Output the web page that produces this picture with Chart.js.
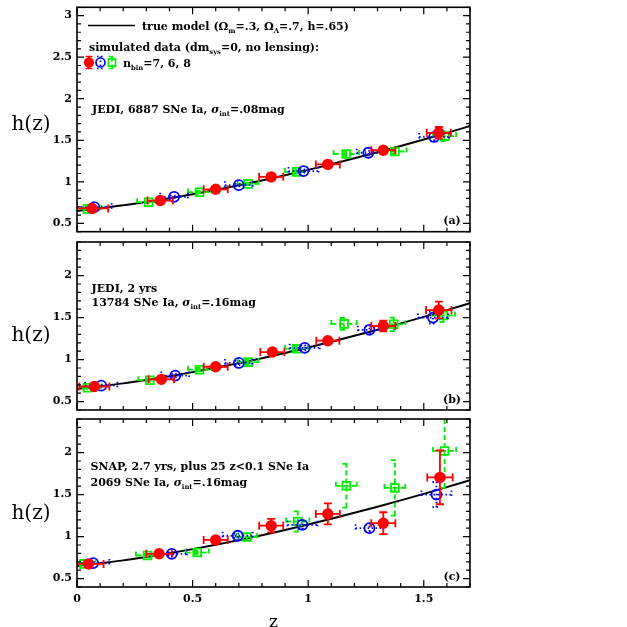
<!DOCTYPE html>
<html>
<head>
<meta charset="utf-8">
<script src="https://cdn.jsdelivr.net/npm/chart.js@4.4.0/dist/chart.umd.min.js"></script>
<style>
    html, body { margin: 0; padding: 0; background: #fff; }
    #quadro { position: relative; width: 627px; height: 627px; }
    #quadro canvas { position: absolute; left: 0; top: 0; }
</style>
</head>
<body>
<div id="quadro">
    <canvas id="painelA" width="627" height="627"></canvas>
    <canvas id="painelB" width="627" height="627"></canvas>
    <canvas id="painelC" width="627" height="627"></canvas>
</div>
<script>
const modeloZ = [0, 0.1, 0.2, 0.3, 0.4, 0.5, 0.6, 0.7, 0.8, 0.9, 1.0, 1.1, 1.2, 1.3, 1.4, 1.5, 1.6, 1.7];
const modeloH = [0.650, 0.682, 0.717, 0.758, 0.802, 0.851, 0.903, 0.958, 1.017, 1.079, 1.144, 1.212, 1.283, 1.356, 1.431, 1.509, 1.589, 1.671];

// Rótulos dos eixos
const ticksX = [0, 0.5, 1, 1.5];
const ticksYA = [0.5, 1, 1.5, 2, 2.5, 3];
const ticksYBC = [0.5, 1, 1.5, 2];

// Painel (a) - JEDI, 6887 SNe
const aVermelhoZ = [0.065, 0.36, 0.60, 0.84, 1.085, 1.325, 1.565];
const aVermelhoH = [0.68, 0.775, 0.91, 1.06, 1.21, 1.38, 1.59];
const aVermelhoErrZ = [0.07, 0.055, 0.052, 0.052, 0.052, 0.052, 0.052];
const aVermelhoErrH = [0.01, 0.012, 0.015, 0.015, 0.02, 0.03, 0.07];

const aAzulZ = [0.075, 0.42, 0.70, 0.98, 1.26, 1.545];
const aAzulH = [0.695, 0.82, 0.96, 1.13, 1.35, 1.54];
const aAzulErrZ = [0.075, 0.06, 0.06, 0.065, 0.05, 0.065];
const aAzulErrH = [0.01, 0.015, 0.015, 0.02, 0.025, 0.05];

const aVerdeZ = [0.045, 0.31, 0.53, 0.74, 0.95, 1.165, 1.375, 1.59];
const aVerdeH = [0.675, 0.755, 0.875, 0.975, 1.12, 1.335, 1.365, 1.55];
const aVerdeErrZ = [0.06, 0.05, 0.05, 0.045, 0.05, 0.055, 0.05, 0.05];
const aVerdeErrH = [0.01, 0.01, 0.015, 0.015, 0.02, 0.025, 0.03, 0.06];

// Painel (b) - JEDI, 2 anos
const bVermelhoZ = [0.075, 0.365, 0.60, 0.845, 1.085, 1.325, 1.565];
const bVermelhoH = [0.68, 0.765, 0.915, 1.09, 1.225, 1.40, 1.59];
const bVermelhoErrZ = [0.065, 0.055, 0.052, 0.052, 0.05, 0.052, 0.055];
const bVermelhoErrH = [0.012, 0.015, 0.02, 0.025, 0.03, 0.065, 0.1];

const bAzulZ = [0.105, 0.425, 0.70, 0.985, 1.265, 1.54];
const bAzulH = [0.69, 0.81, 0.96, 1.14, 1.355, 1.50];
const bAzulErrZ = [0.07, 0.06, 0.06, 0.065, 0.05, 0.065];
const bAzulErrH = [0.012, 0.02, 0.025, 0.03, 0.04, 0.07];

const bVerdeZ = [0.045, 0.315, 0.53, 0.74, 0.95, 1.155, 1.37, 1.585];
const bVerdeH = [0.665, 0.755, 0.88, 0.97, 1.13, 1.425, 1.42, 1.525];
const bVerdeErrZ = [0.06, 0.05, 0.05, 0.045, 0.05, 0.055, 0.05, 0.05];
const bVerdeErrH = [0.012, 0.015, 0.02, 0.025, 0.03, 0.07, 0.08, 0.08];

// Painel (c) - SNAP
const cVermelhoZ = [0.05, 0.355, 0.60, 0.84, 1.085, 1.325, 1.57];
const cVermelhoH = [0.675, 0.795, 0.96, 1.13, 1.27, 1.16, 1.705];
const cVermelhoErrZ = [0.065, 0.055, 0.052, 0.052, 0.052, 0.052, 0.055];
const cVermelhoErrH = [0.012, 0.02, 0.035, 0.08, 0.125, 0.13, 0.32];

const cAzulZ = [0.07, 0.41, 0.695, 0.975, 1.265, 1.555];
const cAzulH = [0.685, 0.795, 1.01, 1.14, 1.10, 1.50];
const cAzulErrZ = [0.07, 0.065, 0.065, 0.065, 0.06, 0.065];
const cAzulErrH = [0.012, 0.02, 0.025, 0.05, 0.04, 0.15];

const cVerdeZ = [0.03, 0.305, 0.52, 0.735, 0.955, 1.165, 1.375, 1.59];
const cVerdeH = [0.675, 0.775, 0.81, 0.995, 1.18, 1.605, 1.58, 2.02];
const cVerdeErrZ = [0.05, 0.05, 0.05, 0.045, 0.05, 0.045, 0.045, 0.05];
const cVerdeErrH = [0.012, 0.015, 0.02, 0.04, 0.12, 0.26, 0.33, 0.44];

const FONTE = '"DejaVu Serif"';
const CAP = 4;

const estilos = {
    vermelho: { cor: '#ff0000', ponto: 'circle', raio: 4.8, fundo: '#ff0000', traco: [] },
    azul: { cor: '#0000ff', ponto: 'circle', raio: 5, fundo: 'rgba(0,0,0,0)', traco: [1.5, 2.5] },
    verde: { cor: '#00ee00', ponto: 'rect', raio: 5.5, fundo: 'rgba(0,0,0,0)', traco: [5, 3] }
};

Chart.defaults.color = '#000';
Chart.defaults.font.family = FONTE;

// barras de erro em x e y com "capas" nas pontas
function desenharBarras(ctx, px, py, x1, x2, y1, y2) {
    ctx.beginPath();
    ctx.moveTo(x1, py); ctx.lineTo(x2, py);
    ctx.moveTo(x1, py - CAP); ctx.lineTo(x1, py + CAP);
    ctx.moveTo(x2, py - CAP); ctx.lineTo(x2, py + CAP);
    ctx.moveTo(px, y1); ctx.lineTo(px, y2);
    ctx.moveTo(px - CAP, y1); ctx.lineTo(px + CAP, y1);
    ctx.moveTo(px - CAP, y2); ctx.lineTo(px + CAP, y2);
    ctx.stroke();
}

const barrasErro = {
    id: 'barrasErro',
    afterDatasetDraw(chart, args) {
        const ds = chart.data.datasets[args.index];
        if (!ds.errZ) return;
        const { ctx, chartArea: ca } = chart;
        const x = chart.scales.x, y = chart.scales.y;
        ctx.save();
        ctx.beginPath();
        ctx.rect(ca.left, ca.top, ca.right - ca.left, ca.bottom - ca.top);
        ctx.clip();
        ctx.strokeStyle = ds.borderColor;
        ctx.lineWidth = 1.8;
        ctx.setLineDash(ds.traco);
        ds.data.forEach((p, i) => {
            desenharBarras(ctx,
                x.getPixelForValue(p.x), y.getPixelForValue(p.y),
                x.getPixelForValue(p.x - ds.errZ[i]), x.getPixelForValue(p.x + ds.errZ[i]),
                y.getPixelForValue(p.y - ds.errH[i]), y.getPixelForValue(p.y + ds.errH[i]));
        });
        ctx.restore();
    }
};

// texto com subscritos e itálico
function textoRico(ctx, x, y, partes, tam) {
    ctx.textAlign = 'left';
    ctx.textBaseline = 'alphabetic';
    let cx = x;
    partes.forEach(([t, tipo]) => {
        let fs = tam, dy = 0, est = 'bold ';
        if (tipo === 'sub') { fs = tam * 0.62; dy = tam * 0.3; }
        if (tipo === 'it') est = 'italic bold ';
        ctx.font = `${est}${fs}px ${FONTE}`;
        ctx.fillText(t, cx, y + dy);
        cx += ctx.measureText(t).width;
    });
}

function simboloLegenda(ctx, tipo, x, y) {
    const s = estilos[tipo];
    ctx.save();
    ctx.strokeStyle = s.cor;
    ctx.fillStyle = s.fundo;
    ctx.lineWidth = 1.7;
    ctx.setLineDash(s.traco);
    ctx.beginPath();
    ctx.moveTo(x, y - 6); ctx.lineTo(x, y + 6);
    ctx.moveTo(x - 3.5, y - 6); ctx.lineTo(x + 3.5, y - 6);
    ctx.moveTo(x - 3.5, y + 6); ctx.lineTo(x + 3.5, y + 6);
    ctx.stroke();
    ctx.setLineDash([]);
    Chart.helpers.drawPoint(ctx, { pointStyle: s.ponto, radius: s.raio - 0.5, rotation: 0, borderWidth: 1.5 }, x, y);
    ctx.restore();
}

// moldura, ticks internos, textos do painel
const moldura = {
    id: 'moldura',
    afterDraw(chart, args, op) {
        const { ctx, chartArea: ca } = chart;
        const x = chart.scales.x, y = chart.scales.y;
        ctx.save();
        ctx.strokeStyle = '#000';
        ctx.lineWidth = 1.2;
        ctx.beginPath();
        for (let k = 0; k <= Math.round(x.max * 10); k++) {
            const px = x.getPixelForValue(k / 10);
            const L = k % 5 === 0 ? 7 : 4;
            ctx.moveTo(px, ca.bottom); ctx.lineTo(px, ca.bottom - L);
            ctx.moveTo(px, ca.top); ctx.lineTo(px, ca.top + L);
        }
        for (let k = Math.round(y.min * 10); k <= Math.round(y.max * 10); k++) {
            const py = y.getPixelForValue(k / 10);
            const L = k % 5 === 0 ? 7 : 4;
            ctx.moveTo(ca.left, py); ctx.lineTo(ca.left + L, py);
            ctx.moveTo(ca.right, py); ctx.lineTo(ca.right - L, py);
        }
        ctx.stroke();
        ctx.lineWidth = 1.6;
        ctx.strokeRect(ca.left, ca.top, ca.right - ca.left, ca.bottom - ca.top);

        ctx.fillStyle = '#000';
        ctx.font = `20px ${FONTE}`;
        ctx.textAlign = 'center';
        ctx.textBaseline = 'middle';
        ctx.fillText('h(z)', 31, op.hzY);

        ctx.font = `bold 11px ${FONTE}`;
        ctx.textBaseline = 'alphabetic';
        ctx.fillText(op.letra, 452, ca.bottom - 7.5);

        op.textos.forEach(t => textoRico(ctx, t.x, t.y, t.partes, 11));

        if (op.legenda) {
            ctx.lineWidth = 1.5;
            ctx.beginPath();
            ctx.moveTo(88, 25.5); ctx.lineTo(135, 25.5);
            ctx.stroke();
            ctx.fillStyle = '#000';
            textoRico(ctx, 142, 29.5, [['true model (Ω'], ['m', 'sub'], ['=.3, Ω'], ['Λ', 'sub'], ['=.7, h=.65)']], 11);
            textoRico(ctx, 89, 50.5, [['simulated data (dm'], ['sys', 'sub'], ['=0, no lensing):']], 11);
            simboloLegenda(ctx, 'vermelho', 89, 62.5);
            simboloLegenda(ctx, 'azul', 100.5, 62.5);
            simboloLegenda(ctx, 'verde', 112, 62.5);
            ctx.fillStyle = '#000';
            textoRico(ctx, 123, 66.5, [['n'], ['bin', 'sub'], ['=7, 6, 8']], 11);
        }
        ctx.restore();
    }
};

function serie(z, h, errZ, errH, tipo) {
    const s = estilos[tipo];
    return {
        data: z.map((v, i) => ({ x: v, y: h[i] })),
        errZ: errZ,
        errH: errH,
        traco: s.traco,
        pointStyle: s.ponto,
        pointRadius: s.raio,
        borderColor: s.cor,
        backgroundColor: s.fundo,
        borderWidth: 1.8,
        showLine: false
    };
}

function criarPainel(id, cfg) {
    const datasets = cfg.series.map(s => serie(...s));
    datasets.push({
        data: modeloZ.map((v, i) => ({ x: v, y: modeloH[i] })),
        showLine: true,
        borderColor: '#000',
        borderWidth: 2,
        pointRadius: 0,
        cubicInterpolationMode: 'monotone',
        fill: false
    });

    return new Chart(document.getElementById(id).getContext('2d'), {
        type: 'scatter',
        data: { datasets },
        options: {
            responsive: false,
            animation: false,
            devicePixelRatio: 1,
            events: [],
            layout: { padding: { top: cfg.topo, bottom: cfg.base, left: 0, right: 157 } },
            scales: {
                x: {
                    type: 'linear',
                    min: 0,
                    max: 1.7,
                    display: cfg.mostraX,
                    grid: { display: false, drawTicks: false },
                    border: { display: false },
                    afterBuildTicks: sc => { sc.ticks = ticksX.map(v => ({ value: v })); },
                    afterFit: sc => {
                        sc.height = cfg.mostraX ? 40 : 0;
                        sc.paddingLeft = 0;
                        sc.paddingRight = 0;
                    },
                    ticks: { padding: 6, font: { size: 11, weight: 'bold' }, maxRotation: 0, callback: v => String(v) },
                    title: { display: true, text: 'z', font: { size: 17, lineHeight: 1 }, padding: { top: 0, bottom: -4 } }
                },
                y: {
                    type: 'linear',
                    min: cfg.yMin,
                    max: cfg.yMax,
                    grid: { display: false, drawTicks: false },
                    border: { display: false },
                    afterBuildTicks: sc => { sc.ticks = cfg.yTicks.map(v => ({ value: v })); },
                    afterFit: sc => { sc.width = 77; sc.paddingTop = 0; sc.paddingBottom = 0; },
                    ticks: { padding: 5, font: { size: 11, weight: 'bold' }, callback: v => String(v) }
                }
            },
            plugins: {
                legend: { display: false },
                tooltip: { enabled: false },
                moldura: { letra: cfg.letra, hzY: cfg.hzY, textos: cfg.textos, legenda: cfg.legenda }
            }
        },
        plugins: [barrasErro, moldura]
    });
}

criarPainel('painelA', {
    series: [
        [aVermelhoZ, aVermelhoH, aVermelhoErrZ, aVermelhoErrH, 'vermelho'],
        [aAzulZ, aAzulH, aAzulErrZ, aAzulErrH, 'azul'],
        [aVerdeZ, aVerdeH, aVerdeErrZ, aVerdeErrH, 'verde']
    ],
    yMin: 0.4, yMax: 3.1, yTicks: ticksYA,
    topo: 3.5, base: 395.3, mostraX: false,
    letra: '(a)', hzY: 125, legenda: true,
    textos: [
        { x: 92, y: 113, partes: [['JEDI, 6887 SNe Ia, '], ['σ', 'it'], ['int', 'sub'], ['=.08mag']] }
    ]
});

criarPainel('painelB', {
    series: [
        [bVermelhoZ, bVermelhoH, bVermelhoErrZ, bVermelhoErrH, 'vermelho'],
        [bAzulZ, bAzulH, bAzulErrZ, bAzulErrH, 'azul'],
        [bVerdeZ, bVerdeH, bVerdeErrZ, bVerdeErrH, 'verde']
    ],
    yMin: 0.4, yMax: 2.4, yTicks: ticksYBC,
    topo: 242, base: 217, mostraX: false,
    letra: '(b)', hzY: 336, legenda: false,
    textos: [
        { x: 91.5, y: 292, partes: [['JEDI, 2 yrs']] },
        { x: 91.5, y: 306, partes: [['13784 SNe Ia, '], ['σ', 'it'], ['int', 'sub'], ['=.16mag']] }
    ]
});

criarPainel('painelC', {
    series: [
        [cVermelhoZ, cVermelhoH, cVermelhoErrZ, cVermelhoErrH, 'vermelho'],
        [cAzulZ, cAzulH, cAzulErrZ, cAzulErrH, 'azul'],
        [cVerdeZ, cVerdeH, cVerdeErrZ, cVerdeErrH, 'verde']
    ],
    yMin: 0.4, yMax: 2.4, yTicks: ticksYBC,
    topo: 419, base: 0, mostraX: true,
    letra: '(c)', hzY: 514, legenda: false,
    textos: [
        { x: 90.5, y: 469.5, partes: [['SNAP, 2.7 yrs, plus 25 z<0.1 SNe Ia']] },
        { x: 90.5, y: 486, partes: [['2069 SNe Ia, '], ['σ', 'it'], ['int', 'sub'], ['=.16mag']] }
    ]
});
</script>
</body>
</html>
